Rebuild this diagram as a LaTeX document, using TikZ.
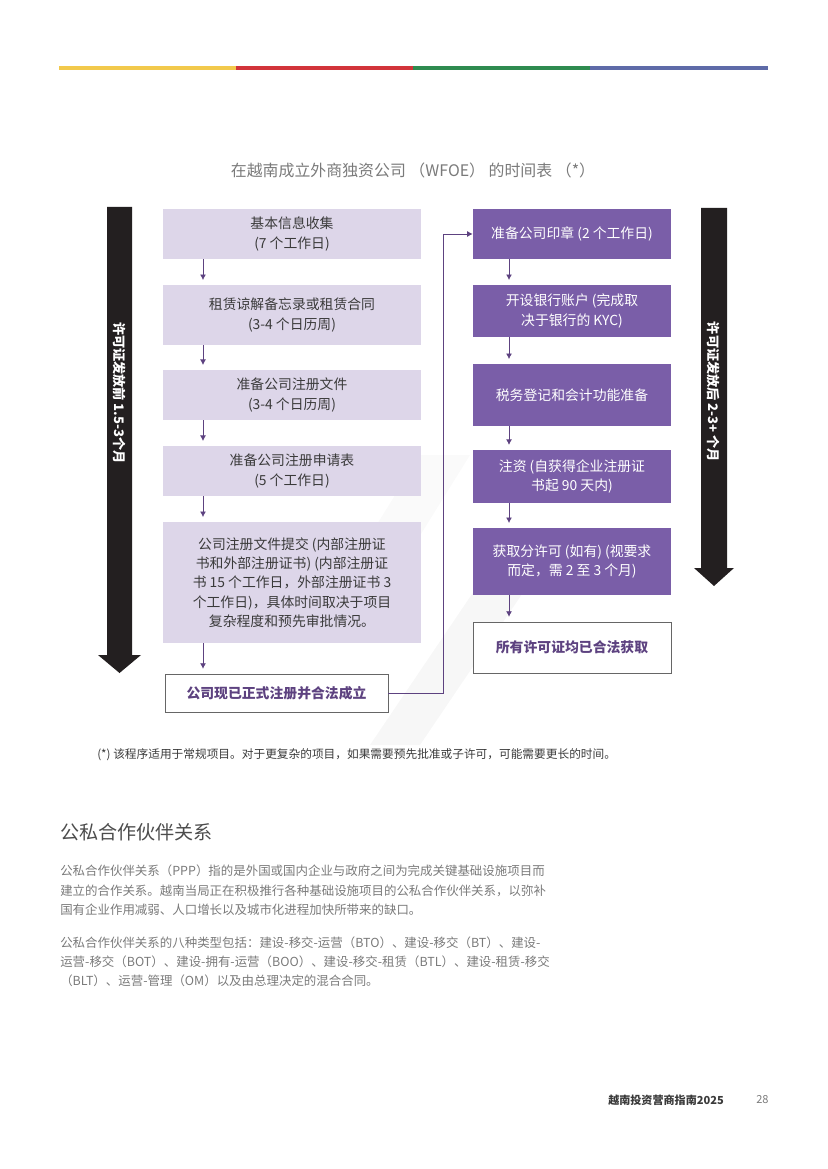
\documentclass[tikz,border=0pt]{standalone}
\usepackage{fontspec}
\setmainfont{Noto Sans CJK SC}
\usepackage{tikz}
\usetikzlibrary{arrows.meta,positioning}
\definecolor{lilas}{HTML}{DDD6E9}
\definecolor{violet}{HTML}{7A5EA8}
\definecolor{prune}{HTML}{5D4280}
\definecolor{encre}{HTML}{3A3A3A}
\definecolor{grisT}{HTML}{7A7A7A}
\definecolor{noirF}{HTML}{231F20}
\definecolor{jaune}{HTML}{F2C94C}
\definecolor{rouge}{HTML}{D2343A}
\definecolor{vert}{HTML}{2E8B50}
\definecolor{bleu}{HTML}{5E6BA8}
\tikzset{etape/.style={fill=lilas,align=center,text=encre,minimum width=65.5mm,inner sep=0pt,font=\fontsize{10}{14}\selectfont},
etapeB/.style={fill=violet,align=center,text=white,minimum width=50.3mm,inner sep=0pt,font=\fontsize{10}{14}\selectfont},
fin/.style={draw=black!60,line width=0.5pt,fill=white,align=center,text=prune,inner sep=0pt,font=\fontsize{10}{14}\selectfont\bfseries},
flux/.style={-{Latex[length=1.4mm,width=1.5mm]},prune,line width=0.6pt,shorten >=1.2mm},
duree/.style={rotate=-90,text=white,font=\fontsize{9.5}{11}\selectfont\bfseries},
corps/.style={anchor=west,text=grisT,inner sep=0pt,font=\fontsize{9}{10}\selectfont}}
\begin{document}
\begin{tikzpicture}[x=0.254mm,y=-0.254mm]
\useasboundingbox (0,0) rectangle (827,1169);
% bandeau
\fill[jaune] (59,66) rectangle (236,70);
\fill[rouge] (236,66) rectangle (413,70);
\fill[vert] (413,66) rectangle (590,70);
\fill[bleu] (590,66) rectangle (768,70);
% filigrane
\fill[black!3] (370,745) -- (420,745) -- (545,560) -- (495,560) -- cycle;
\fill[black!2] (330,600) -- (380,600) -- (470,455) -- (420,455) -- cycle;
\node[text=grisT,font=\fontsize{11.5}{14}\selectfont] (titre) at (413,170) {在越南成立外商独资公司 （WFOE） 的时间表 （*）};
% fleches de duree
\fill[noirF] (107,207) -- (132,207) -- (132,655) -- (141,655) -- (119.5,673) -- (98,655) -- (107,655) -- cycle;
\node[duree] (avant) at (119.5,393) {许可证发放前 1.5-3个月};
\fill[noirF] (701,208) -- (727,208) -- (727,568) -- (734,568) -- (714,586) -- (694,568) -- (701,568) -- cycle;
\node[duree] (apres) at (714,392) {许可证发放后 2-3+ 个月};
% colonne gauche
\node[etape,minimum height=12.7mm] (info) at (292,234) {基本信息收集\\(7 个工作日)};
\node[etape,minimum height=15.2mm] (bail) at (292,315) {租赁谅解备忘录或租赁合同\\(3-4 个日历周)};
\node[etape,minimum height=12.7mm] (docs) at (292,395) {准备公司注册文件\\(3-4 个日历周)};
\node[etape,minimum height=12.7mm] (form) at (292,471) {准备公司注册申请表\\(5 个工作日)};
\node[etape,minimum height=30.7mm] (depot) at (292,582.5) {公司注册文件提交 (内部注册证\\书和外部注册证书) (内部注册证\\书 15 个工作日，外部注册证书 3\\个工作日)，具体时间取决于项目\\复杂程度和预先审批情况。};
\node[fin,minimum width=56.6mm,minimum height=9.7mm] (cree) at (276.5,693) {公司现已正式注册并合法成立};
% colonne droite
\node[etapeB,minimum height=12.7mm] (sceau) at (572,234) {准备公司印章 (2 个工作日)};
\node[etapeB,minimum height=13.2mm] (banque) at (572,311) {开设银行账户 (完成取\\决于银行的 KYC)};
\node[etapeB,minimum height=15.7mm] (impot) at (572,395) {税务登记和会计功能准备};
\node[etapeB,minimum height=13.5mm] (capital) at (572,476.5) {注资 (自获得企业注册证\\书起 90 天内)};
\node[etapeB,minimum height=17mm] (souslic) at (572,561.5) {获取分许可 (如有) (视要求\\而定，需 2 至 3 个月)};
\node[fin,minimum width=50.3mm,minimum height=13mm] (permis) at (572,647.5) {所有许可证均已合法获取};
\coordinate (gx) at (203,0);
\coordinate (dx) at (509,0);
\coordinate (jx) at (443,0);
\draw[flux] (info.south -| gx) -- (bail.north -| gx);
\draw[flux] (bail.south -| gx) -- (docs.north -| gx);
\draw[flux] (docs.south -| gx) -- (form.north -| gx);
\draw[flux] (form.south -| gx) -- (depot.north -| gx);
\draw[flux] (depot.south -| gx) -- (cree.north -| gx);
\draw[flux] (sceau.south -| dx) -- (banque.north -| dx);
\draw[flux] (banque.south -| dx) -- (impot.north -| dx);
\draw[flux] (impot.south -| dx) -- (capital.north -| dx);
\draw[flux] (capital.south -| dx) -- (souslic.north -| dx);
\draw[flux] (souslic.south -| dx) -- (permis.north -| dx);
\draw[flux,shorten >=0pt] (cree.east) -- (cree.east -| jx) -- (sceau.west -| jx) -- (sceau.west);
% notes et texte
\node[corps,text=encre,font=\fontsize{8.45}{10}\selectfont] (note) at (97,755) {(*) 该程序适用于常规项目。对于更复杂的项目，如果需要预先批准或子许可，可能需要更长的时间。};
\node[corps,text=black!70,font=\fontsize{13.8}{16}\selectfont] (ppp) at (60,832) {公私合作伙伴关系};
\node[corps] (p1) at (60,871) {公私合作伙伴关系（PPP）指的是外国或国内企业与政府之间为完成关键基础设施项目而};
\node[corps] (p2) at (60,891) {建立的合作关系。越南当局正在积极推行各种基础设施项目的公私合作伙伴关系，以弥补};
\node[corps] (p3) at (60,910) {国有企业作用减弱、人口增长以及城市化进程加快所带来的缺口。};
\node[corps] (p4) at (60,943) {公私合作伙伴关系的八种类型包括：建设-移交-运营（BTO）、建设-移交（BT）、建设-};
\node[corps] (p5) at (60,962) {运营-移交（BOT）、建设-拥有-运营（BOO）、建设-移交-租赁（BTL）、建设-租赁-移交};
\node[corps] (p6) at (60,981) {（BLT）、运营-管理（OM）以及由总理决定的混合合同。};
\node[corps,text=encre,font=\fontsize{8}{10}\selectfont\bfseries] (guide) at (608,1100) {越南投资营商指南2025};
\node[corps,text=grisT,font=\fontsize{8}{10}\selectfont] (page) at (756,1100) {28};
\end{tikzpicture}
\end{document}
